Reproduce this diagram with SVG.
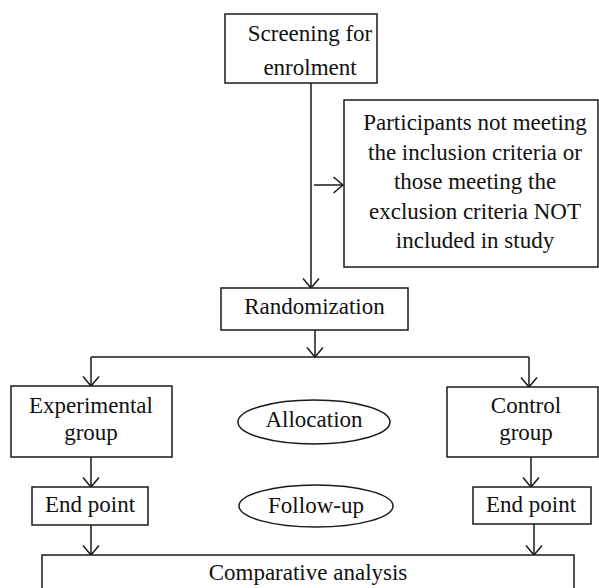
<svg xmlns="http://www.w3.org/2000/svg" width="599" height="588" viewBox="0 0 599 588" font-family="Liberation Serif, Times New Roman, serif" font-size="23">
<style>
.box{fill:#fff;stroke:#1a1a1a;stroke-width:1.5}
text{fill:#111;text-anchor:middle}
.c{fill:none;stroke:#1a1a1a;stroke-width:1.5}
</style>
<defs>
<marker id="ah" markerUnits="userSpaceOnUse" markerWidth="12" markerHeight="18" viewBox="0 0 12 18" refX="10.5" refY="9" orient="auto">
<path d="M1,1 L10.5,9 L1,17" fill="none" stroke="#1a1a1a" stroke-width="1.5"/>
</marker>
</defs>
<rect width="599" height="588" fill="#fff"/>
<g id="connectors">
<path class="c" d="M311,83 V288" marker-end="url(#ah)"/>
<path class="c" d="M314,185 H343" marker-end="url(#ah)"/>
<path class="c" d="M315,330 V357" marker-end="url(#ah)"/>
<path class="c" d="M91,357 H529"/>
<path class="c" d="M91,357 V386" marker-end="url(#ah)"/>
<path class="c" d="M529,357 V387" marker-end="url(#ah)"/>
<path class="c" d="M91,457 V487" marker-end="url(#ah)"/>
<path class="c" d="M531,457 V487" marker-end="url(#ah)"/>
<path class="c" d="M91,525 V555" marker-end="url(#ah)"/>
<path class="c" d="M534,524 V555" marker-end="url(#ah)"/>
</g>
<g id="screening">
<rect class="box" x="225" y="14" width="152" height="69"/>
<text x="310" y="41">Screening for</text>
<text x="310" y="75">enrolment</text>
</g>
<g id="excluded">
<rect class="box" x="344" y="100" width="254" height="167"/>
<text x="475" y="130">Participants not meeting</text>
<text x="475" y="159.5">the inclusion criteria or</text>
<text x="475" y="189">those meeting the</text>
<text x="475" y="218.5">exclusion criteria NOT</text>
<text x="475" y="248">included in study</text>
</g>
<g id="randomization">
<rect class="box" x="221" y="288" width="187" height="42"/>
<text x="314.5" y="314">Randomization</text>
</g>
<g id="experimental">
<rect class="box" x="11" y="386" width="161" height="71"/>
<text x="91" y="413">Experimental</text>
<text x="91" y="440">group</text>
</g>
<g id="allocation">
<ellipse class="box" cx="314" cy="422" rx="76" ry="22"/>
<text x="314" y="427">Allocation</text>
</g>
<g id="control">
<rect class="box" x="447" y="387" width="151" height="70"/>
<text x="526" y="413">Control</text>
<text x="526" y="440">group</text>
</g>
<g id="endpoint-left">
<rect class="box" x="32" y="487" width="116" height="38"/>
<text x="90" y="512">End point</text>
</g>
<g id="followup">
<ellipse class="box" cx="316" cy="506" rx="77" ry="21"/>
<text x="316" y="513">Follow-up</text>
</g>
<g id="endpoint-right">
<rect class="box" x="473" y="487" width="118" height="37"/>
<text x="531" y="512">End point</text>
</g>
<g id="comparative">
<rect class="box" x="42" y="555" width="532" height="40"/>
<text x="308" y="580">Comparative analysis</text>
</g>
</svg>
